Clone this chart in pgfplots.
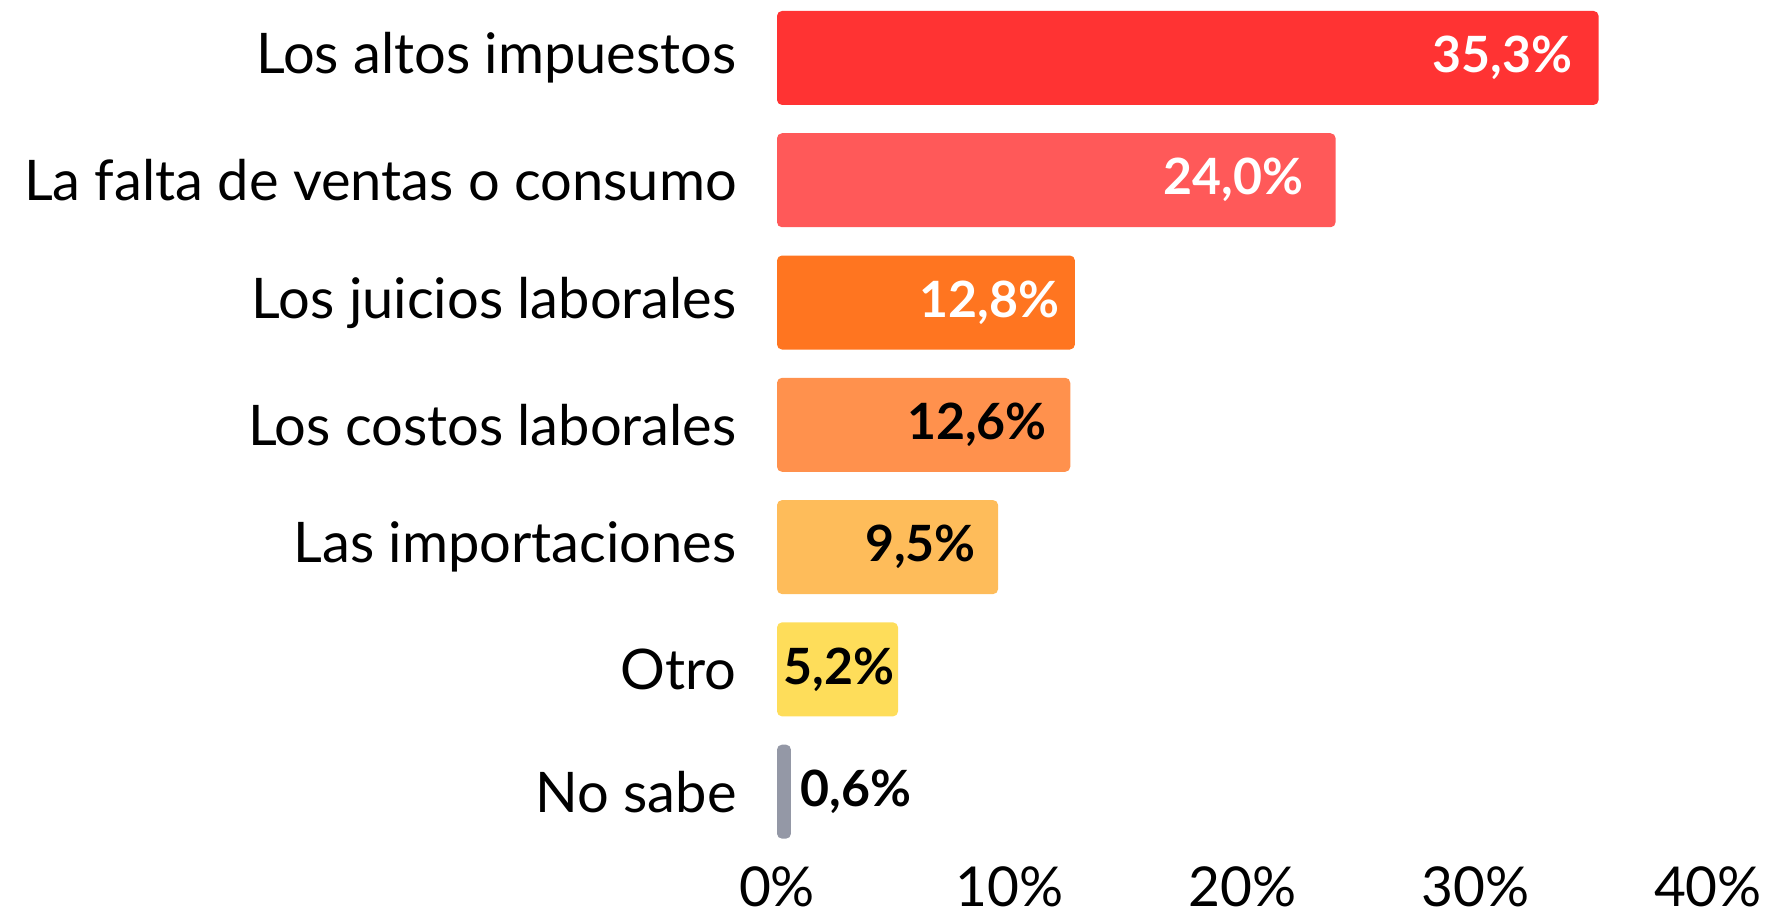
\documentclass[border=0pt]{standalone}
\usepackage{fontspec}
\setmainfont{Lato}
\usepackage{pgfplots}
\pgfplotsset{compat=1.18}
\definecolor{c1}{RGB}{255,51,51}
\definecolor{c2}{RGB}{255,89,89}
\definecolor{c3}{RGB}{255,117,32}
\definecolor{c4}{RGB}{255,145,77}
\definecolor{c5}{RGB}{254,188,90}
\definecolor{c6}{RGB}{254,221,90}
\definecolor{c7}{RGB}{148,152,166}
\begin{document}
\begin{tikzpicture}
\useasboundingbox (0,0) rectangle (885.5pt,457pt);
\begin{axis}[
  at={(388.5pt,30.6pt)}, anchor=south west,
  scale only axis, width=465.5pt, height=428pt,
  xmin=0, xmax=40, ymin=-0.5, ymax=6.5, y dir=reverse,
  xbar, bar width=47pt, bar shift=0pt,
  axis line style={draw=none}, major tick length=0pt,
  xtick={0,10,20,30,40}, xticklabels={0\%,10\%,20\%,30\%,40\%},
  ytick={0,1,2,3,4,5,6},
  yticklabels={Los altos impuestos,La falta de ventas o consumo,Los juicios laborales,Los costos laborales,Las importaciones,Otro,No sabe},
  yticklabel style={font=\fontsize{28}{30}\selectfont, anchor=east, inner sep=0pt, xshift=-20pt},
  xticklabel style={font=\fontsize{27.5}{30}\selectfont, anchor=center, inner sep=0pt, yshift=-17pt},
  every axis plot/.append style={draw=none, rounded corners=2.5pt},
  nodes near coords style={font=\bfseries\fontsize{25}{28}\selectfont, inner sep=0pt, anchor=east},
]
\addplot[fill=c1, nodes near coords={35,3\%}, nodes near coords style={text=white, xshift=-13pt}] coordinates {(35.3,0)};
\addplot[fill=c2, nodes near coords={24,0\%}, nodes near coords style={text=white, xshift=-16pt}] coordinates {(24.0,1)};
\addplot[fill=c3, nodes near coords={12,8\%}, nodes near coords style={text=white, xshift=-7.5pt}] coordinates {(12.8,2)};
\addplot[fill=c4, nodes near coords={12,6\%}, nodes near coords style={text=black, xshift=-11.5pt}] coordinates {(12.6,3)};
\addplot[fill=c5, nodes near coords={9,5\%}, nodes near coords style={text=black, xshift=-11pt}] coordinates {(9.5,4)};
\addplot[fill=c6, nodes near coords={5,2\%}, nodes near coords style={text=black, xshift=-1.5pt}] coordinates {(5.2,5)};
\addplot[fill=c7, nodes near coords={0,6\%}, nodes near coords style={text=black, anchor=west, xshift=4.5pt}] coordinates {(0.6,6)};
\end{axis}
\end{tikzpicture}
\end{document}
